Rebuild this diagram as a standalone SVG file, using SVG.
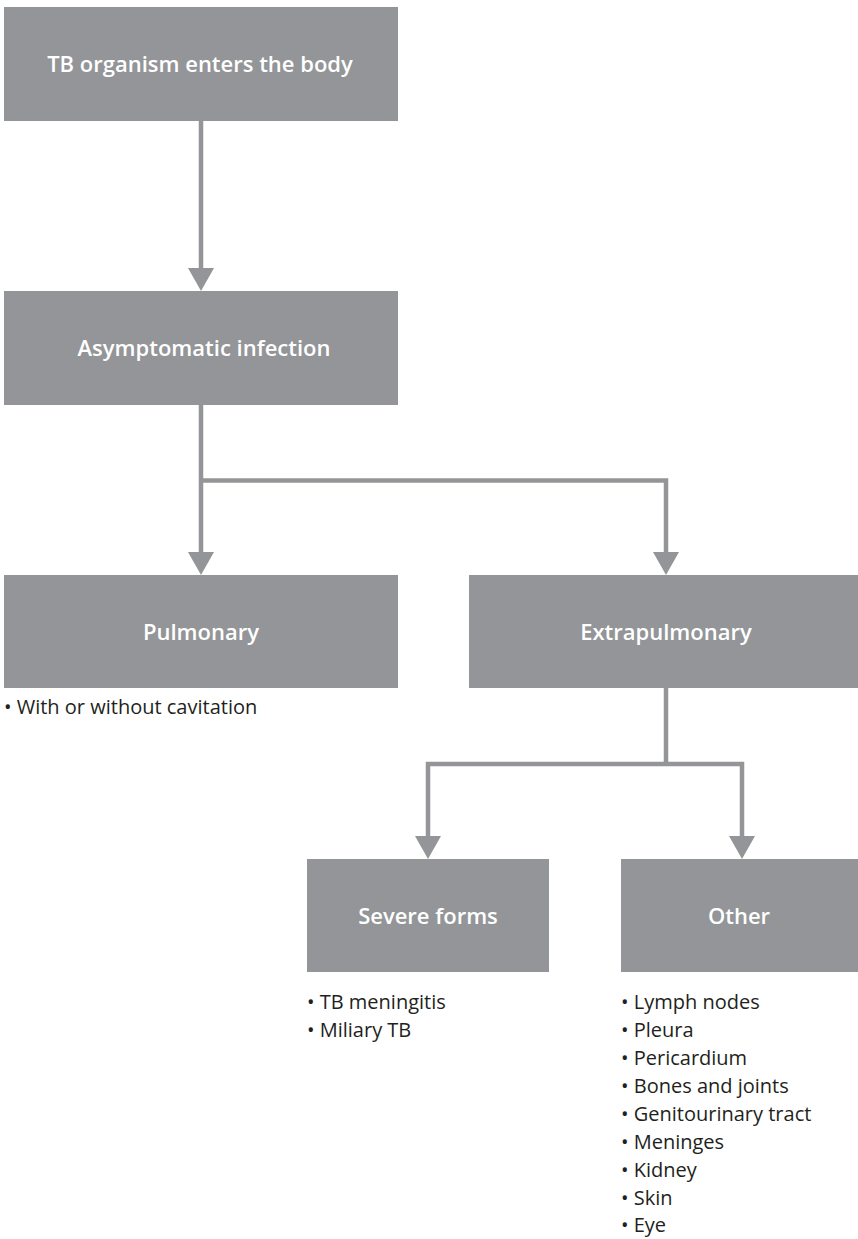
<svg xmlns="http://www.w3.org/2000/svg" width="858" height="1239" viewBox="0 0 858 1239">
<defs>
<style>
.box{fill:#939598}
.lbl{font-family:"Open Sans","Noto Sans","Liberation Sans",sans-serif;font-weight:600;font-size:22px;fill:#ffffff;text-anchor:middle}
.item{font-family:"Open Sans","Noto Sans","Liberation Sans",sans-serif;font-size:20px;fill:#231f20}
.ln{fill:none;stroke:#939598;stroke-width:4.5;stroke-linejoin:miter;stroke-linecap:butt}
.ah{fill:#939598}
</style>
</defs>
<rect width="858" height="1239" fill="#ffffff"/>
<g id="connectors">
<path class="ln" d="M201,121 V270"/>
<polygon class="ah" points="188,268 214,268 201,291"/>
<path class="ln" d="M201,405 V554 M201,480.5 H666 V554"/>
<polygon class="ah" points="188,552 214,552 201,575"/>
<polygon class="ah" points="653,552 679,552 666,575"/>
<path class="ln" d="M666,688 V764 M428,838 V764 H742 V838"/>
<polygon class="ah" points="415,836 441,836 428,859"/>
<polygon class="ah" points="729,836 755,836 742,859"/>
</g>
<g id="node-entry">
<rect class="box" x="4" y="7" width="394" height="114"/>
<text class="lbl" x="200" y="72">TB organism enters the body</text>
</g>
<g id="node-asymptomatic">
<rect class="box" x="4" y="291" width="394" height="114"/>
<text class="lbl" x="204" y="356">Asymptomatic infection</text>
</g>
<g id="node-pulmonary">
<rect class="box" x="4" y="575" width="394" height="113"/>
<text class="lbl" x="201" y="640">Pulmonary</text>
<text class="item" x="4" y="714">• With or without cavitation</text>
</g>
<g id="node-extrapulmonary">
<rect class="box" x="469" y="575" width="389" height="113"/>
<text class="lbl" x="666" y="640">Extrapulmonary</text>
</g>
<g id="node-severe">
<rect class="box" x="307" y="859" width="242" height="113"/>
<text class="lbl" x="428" y="924">Severe forms</text>
<text class="item" x="307" y="1009">• TB meningitis</text>
<text class="item" x="307" y="1037">• Miliary TB</text>
</g>
<g id="node-other">
<rect class="box" x="621" y="859" width="237" height="113"/>
<text class="lbl" x="739" y="924">Other</text>
<text class="item" x="621" y="1009">• Lymph nodes</text>
<text class="item" x="621" y="1037">• Pleura</text>
<text class="item" x="621" y="1065">• Pericardium</text>
<text class="item" x="621" y="1093">• Bones and joints</text>
<text class="item" x="621" y="1121">• Genitourinary tract</text>
<text class="item" x="621" y="1149">• Meninges</text>
<text class="item" x="621" y="1177">• Kidney</text>
<text class="item" x="621" y="1205">• Skin</text>
<text class="item" x="621" y="1232">• Eye</text>
</g>
</svg>
